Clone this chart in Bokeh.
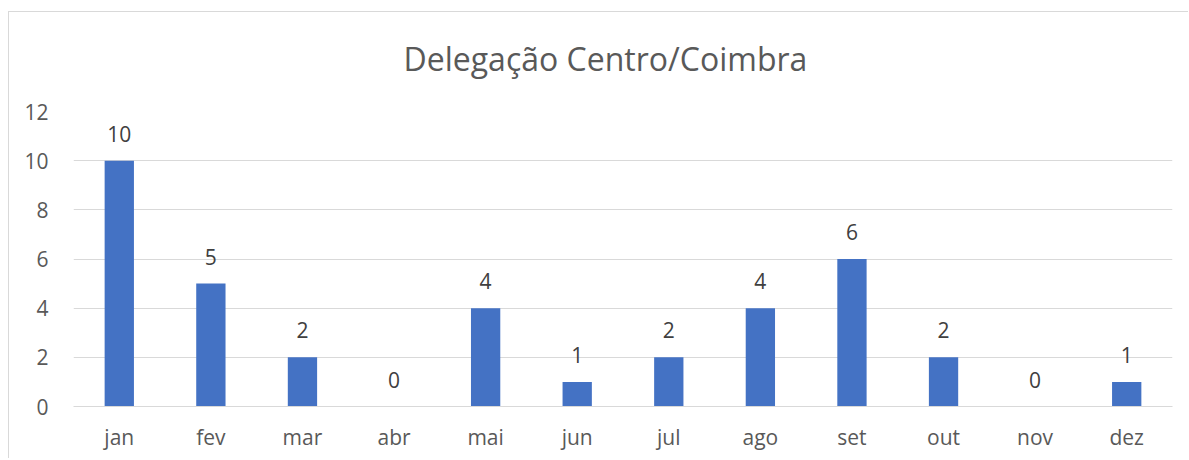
from bokeh.plotting import figure
from bokeh.models import ColumnDataSource, LabelSet, FixedTicker
from bokeh.core.properties import value
from bokeh.embed import file_html
from bokeh.resources import INLINE

months = ["jan", "fev", "mar", "abr", "mai", "jun", "jul", "ago", "set", "out", "nov", "dez"]
values = [10, 5, 2, 0, 4, 1, 2, 4, 6, 2, 0, 1]
y_ticks = [0, 2, 4, 6, 8, 10, 12]
title_text = "Delegação Centro/Coimbra"

FONT = "Open Sans"

src = ColumnDataSource(dict(month=months, value=values, label=[str(v) for v in values]))

p = figure(x_range=months, y_range=(0, 12), width=1180, height=458,
           output_backend="svg", toolbar_location=None, tools="")
p.min_border_left = 65
p.min_border_right = 16
p.min_border_top = 111
p.min_border_bottom = 52
p.outline_line_color = None
p.border_fill_color = None
p.background_fill_color = None
p.styles = {
    "margin-left": "8px",
    "background": ("linear-gradient(#d9d9d9, #d9d9d9) 0 11px / 100% 1px no-repeat, "
                   "linear-gradient(#d9d9d9, #d9d9d9) 0 11px / 1px 100% no-repeat, white"),
}

p.title.text = title_text
p.title.align = "left"
p.title.offset = 330
p.title.standoff = 64
p.title.text_font = FONT
p.title.text_font_size = "32px"
p.title.text_font_style = "normal"
p.title.text_color = "#595959"

p.vbar(x="month", top="value", width=0.32, source=src, color="#4472C4", line_color=None)

labels = LabelSet(x="month", y="value", text="label", source=src, y_offset=27,
                  text_align="center", text_baseline="middle",
                  text_font=value(FONT), text_font_size=value("21px"), text_color=value("#404040"))
p.add_layout(labels)

p.yaxis.ticker = FixedTicker(ticks=y_ticks)
p.yaxis.axis_line_color = None
p.yaxis.major_label_standoff = 25
p.xaxis.axis_line_color = "#d9d9d9"
p.xaxis.major_label_standoff = 16
for ax in (p.xaxis, p.yaxis):
    ax.major_tick_line_color = None
    ax.minor_tick_line_color = None
    ax.major_tick_out = 0
    ax.major_tick_in = 0
    ax.minor_tick_out = 0
    ax.major_label_text_font = FONT
    ax.major_label_text_font_size = "21px"
    ax.major_label_text_color = "#595959"

p.xgrid.grid_line_color = None
p.ygrid.grid_line_color = "#d9d9d9"
p.ygrid.grid_line_width = 1

open("out.html", "w").write(file_html(p, INLINE))
